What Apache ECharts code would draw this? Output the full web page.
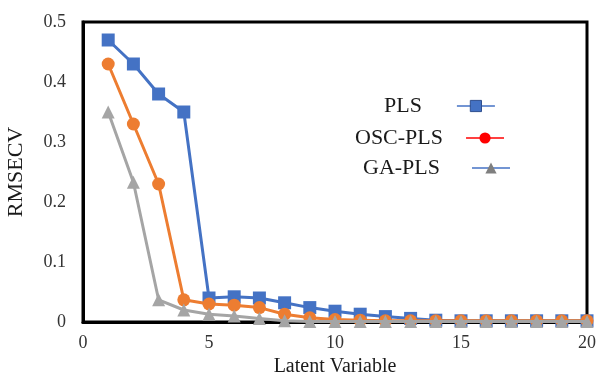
<!DOCTYPE html>
<html>
<head>
<meta charset="utf-8">
<script src="https://cdn.jsdelivr.net/npm/echarts@6/dist/echarts.min.js"></script>
<style>
  html, body { margin: 0; padding: 0; background: #fff; }
  #chart { width: 599px; height: 379px; }
</style>
</head>
<body>
<div id="chart"></div>
<script>
// latent variables 1..20
const latent = [1, 2, 3, 4, 5, 6, 7, 8, 9, 10, 11, 12, 13, 14, 15, 16, 17, 18, 19, 20];
const pls    = [0.47, 0.43, 0.38, 0.35, 0.04, 0.042, 0.04, 0.032, 0.024, 0.018, 0.013, 0.009, 0.006, 0.003, 0.002, 0.002, 0.002, 0.002, 0.002, 0.002];
const oscPls = [0.43, 0.33, 0.23, 0.037, 0.03, 0.028, 0.024, 0.013, 0.007, 0.004, 0.003, 0.002, 0.002, 0.002, 0.002, 0.002, 0.002, 0.002, 0.002, 0.002];
const gaPls  = [0.35, 0.233, 0.037, 0.02, 0.013, 0.01, 0.006, 0.002, 0.001, 0.001, 0.001, 0.001, 0.001, 0.001, 0.001, 0.001, 0.001, 0.001, 0.001, 0.001];
const xTicks = [0, 5, 10, 15, 20];
const yTicks = [0, 0.1, 0.2, 0.3, 0.4, 0.5];

const font = 'Liberation Serif, Times New Roman, serif';
const chart = echarts.init(document.getElementById('chart'));

const pairs = arr => latent.map((x, i) => [x, arr[i]]);

// one legend box per entry: text first, line+marker sample to its right
function legendFor(name, left, top, gap, itemStyle, lineStyle) {
    return {
        left: left,
        top: top,
        align: 'right',
        itemWidth: 38,
        itemHeight: 14,
        itemGap: 0,
        textStyle: { fontFamily: font, fontSize: 22, color: '#1a1a1a', padding: [0, gap, 0, 0] },
        data: [{ name: name, itemStyle: itemStyle, lineStyle: lineStyle }],
        selectedMode: false
    };
}

chart.setOption({
    animation: false,
    grid: {
        left: 83, right: 12, top: 22, bottom: 57,
        outerBoundsMode: 'none',
        show: true, borderColor: '#000', borderWidth: 3
    },
    legend: [
        legendFor('PLS', 379, 90, 30, { color: '#4472c4', borderColor: '#2f4f8f', borderWidth: 1 }, { color: '#4472c4', width: 1.5 }),
        legendFor('OSC-PLS', 350, 122, 18, { color: '#ff0000', borderWidth: 0 }, { color: '#ff0000', width: 1.5 }),
        legendFor('GA-PLS', 358, 152, 27, { color: '#7f7f7f', borderWidth: 0 }, { color: '#4472c4', width: 1.5 })
    ],
    xAxis: {
        type: 'value',
        min: 0, max: 20, interval: 5,
        name: 'Latent Variable',
        nameLocation: 'middle',
        nameGap: 32,
        nameTextStyle: { fontFamily: font, fontSize: 20, color: '#1a1a1a' },
        axisLine: { show: true, lineStyle: { color: '#000', width: 3 } },
        axisTick: { show: false },
        splitLine: { show: false },
        axisLabel: { fontFamily: font, fontSize: 18, color: '#333', margin: 12,
            formatter: v => xTicks.includes(v) ? String(v) : '' }
    },
    yAxis: {
        type: 'value',
        min: 0, max: 0.5, interval: 0.1,
        name: 'RMSECV',
        nameLocation: 'middle',
        nameGap: 56,
        nameTextStyle: { fontFamily: font, fontSize: 22, color: '#1a1a1a' },
        axisLine: { show: true, lineStyle: { color: '#000', width: 3 } },
        axisTick: { show: false },
        splitLine: { show: false },
        axisLabel: { fontFamily: font, fontSize: 18, color: '#333', margin: 17,
            formatter: v => {
                const t = yTicks.find(y => Math.abs(y - v) < 1e-9);
                return t === undefined ? '' : (t === 0 ? '0' : t.toFixed(1));
            } }
    },
    series: [
        {
            name: 'PLS', type: 'line', data: pairs(pls),
            symbol: 'rect', symbolSize: 13, z: 2,
            lineStyle: { color: '#4472c4', width: 3 },
            itemStyle: { color: '#4472c4' }
        },
        {
            name: 'OSC-PLS', type: 'line', data: pairs(oscPls),
            symbol: 'circle', symbolSize: 13, z: 3,
            lineStyle: { color: '#ed7d31', width: 3 },
            itemStyle: { color: '#ed7d31' }
        },
        {
            name: 'GA-PLS', type: 'line', data: pairs(gaPls),
            symbol: 'triangle', symbolSize: 13, z: 4,
            lineStyle: { color: '#a5a5a5', width: 3 },
            itemStyle: { color: '#a5a5a5' }
        }
    ]
});
</script>
</body>
</html>
